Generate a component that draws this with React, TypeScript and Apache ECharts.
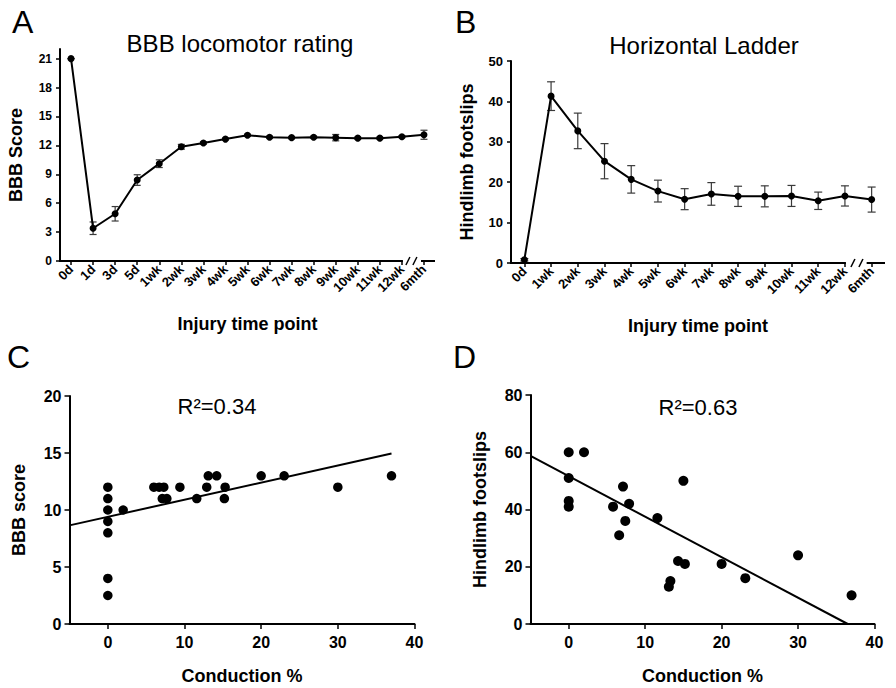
import React, { useEffect, useRef } from 'react';
import * as echarts from 'echarts';

const FONT = '"Liberation Sans", Arial, Helvetica, sans-serif';

// Panel A: BBB locomotor rating (mean ± SEM)
const aCats = ['0d', '1d', '3d', '5d', '1wk', '2wk', '3wk', '4wk', '5wk', '6wk', '7wk', '8wk', '9wk', '10wk', '11wk', '12wk', '6mth'];
const aMean = [21, 3.4, 4.9, 8.4, 10.1, 11.85, 12.25, 12.65, 13.05, 12.85, 12.8, 12.85, 12.8, 12.75, 12.75, 12.9, 13.1];
const aSem = [0, 0.65, 0.75, 0.55, 0.4, 0.25, 0.12, 0.1, 0.1, 0.1, 0.1, 0.1, 0.33, 0.1, 0.1, 0.1, 0.47];
const aTicks = [0, 3, 6, 9, 12, 15, 18, 21];

// Panel B: Horizontal ladder (mean ± SEM)
const bCats = ['0d', '1wk', '2wk', '3wk', '4wk', '5wk', '6wk', '7wk', '8wk', '9wk', '10wk', '11wk', '12wk', '6mth'];
const bMean = [0.8, 41.3, 32.7, 25.2, 20.7, 17.8, 15.8, 17.1, 16.5, 16.5, 16.6, 15.4, 16.6, 15.7];
const bSem = [0.3, 3.55, 4.4, 4.35, 3.4, 2.7, 2.6, 2.8, 2.5, 2.6, 2.6, 2.15, 2.5, 3.1];

// Panel C: BBB score vs conduction %
const cX = [0, 0, 0, 0, 0, 0, 0, 2, 6, 6.7, 7.3, 7.1, 7.7, 9.4, 11.6, 12.9, 13.1, 14.2, 15.3, 15.2, 20, 23, 30, 37];
const cY = [12, 11, 10, 9, 8, 4, 2.5, 10, 12, 12, 12, 11, 11, 12, 11, 12, 13, 13, 12, 11, 13, 13, 12, 13];
const cFitX = [-5, 37];
const cFitY = [8.65, 14.95];

// Panel D: Hindlimb footslips vs conduction %
const dX = [0, 2, 0, 0, 0, 5.8, 7.1, 7.9, 7.4, 6.6, 11.6, 14.3, 13.3, 13.1, 15.0, 15.2, 20, 23.1, 30, 37];
const dY = [60, 60, 51, 43, 41, 41, 48, 42, 36, 31, 37, 22, 15, 13, 50, 21, 21, 16, 24, 10];
const dFitX = [-5, 36.5];
const dFitY = [58.7, 0];

const convTicks = [0, 10, 20, 30, 40];

const errRender = (half: number) => (params: any, api: any) => {
  const i = api.value(0);
  const lo = api.coord([i, api.value(1)]);
  const hi = api.coord([i, api.value(2)]);
  const st = { stroke: '#3a3a3a', lineWidth: 1.2 };
  return {
    type: 'group',
    children: [
      { type: 'line', shape: { x1: lo[0], y1: lo[1], x2: hi[0], y2: hi[1] }, style: st },
      { type: 'line', shape: { x1: lo[0] - half, y1: lo[1], x2: lo[0] + half, y2: lo[1] }, style: st },
      { type: 'line', shape: { x1: hi[0] - half, y1: hi[1], x2: hi[0] + half, y2: hi[1] }, style: st },
    ],
  };
};

const axisLineStyle = { show: true, onZero: false, lineStyle: { color: '#000', width: 2 } };
const tickStyle = (len: number) => ({ show: true, length: len, lineStyle: { color: '#000', width: 1.5 } });
const nameStyle = { fontFamily: FONT, fontSize: 18, fontWeight: 'bold' as const, color: '#000' };

export default function App() {
  const ref = useRef<HTMLDivElement>(null);
  useEffect(() => {
    const chart = echarts.init(ref.current!, null, { renderer: 'svg' });
    const grids = [
      { left: 60, top: 49, width: 375, height: 212 },
      { left: 511, top: 61, width: 374, height: 202 },
      { left: 69.5, top: 396, width: 345, height: 228 },
      { left: 530.5, top: 395, width: 344, height: 229 },
    ];
    const catAxis = (gi: number, cats: string[]) => ({
      type: 'category',
      gridIndex: gi,
      data: cats,
      boundaryGap: true,
      axisLine: { show: false },
      axisTick: { ...tickStyle(4), alignWithLabel: true, interval: 0 },
      axisLabel: { interval: 0, rotate: 45, margin: 6, fontFamily: FONT, fontSize: 13, fontWeight: 'bold', color: '#000' },
      splitLine: { show: false },
      name: 'Injury time point',
      nameLocation: 'middle',
      nameGap: 54,
      nameTextStyle: nameStyle,
    });
    const option: any = {
      animation: false,
      backgroundColor: '#fff',
      grid: grids,
      xAxis: [
        catAxis(0, aCats),
        catAxis(1, bCats),
        {
          type: 'value', gridIndex: 2, min: -5, max: 40,
          axisLine: axisLineStyle,
          axisTick: { ...tickStyle(5), customValues: convTicks },
          axisLabel: { customValues: convTicks, margin: 10, fontFamily: FONT, fontSize: 16, fontWeight: 'bold', color: '#000' },
          splitLine: { show: false },
          name: 'Conduction %', nameLocation: 'middle', nameGap: 43, nameTextStyle: nameStyle,
        },
        {
          type: 'value', gridIndex: 3, min: -5, max: 40,
          axisLine: axisLineStyle,
          axisTick: { ...tickStyle(5), customValues: convTicks },
          axisLabel: { customValues: convTicks, margin: 10, fontFamily: FONT, fontSize: 16, fontWeight: 'bold', color: '#000' },
          splitLine: { show: false },
          name: 'Conduction %', nameLocation: 'middle', nameGap: 43, nameTextStyle: nameStyle,
        },
      ],
      yAxis: [
        {
          type: 'value', gridIndex: 0, min: 0, max: 22,
          axisLine: axisLineStyle,
          axisTick: { ...tickStyle(4), customValues: aTicks },
          axisLabel: { customValues: aTicks, margin: 8, fontFamily: FONT, fontSize: 12, fontWeight: 'bold', color: '#000' },
          splitLine: { show: false },
          name: 'BBB Score', nameLocation: 'middle', nameGap: 35, nameTextStyle: nameStyle,
        },
        {
          type: 'value', gridIndex: 1, min: 0, max: 50, interval: 10,
          axisLine: axisLineStyle,
          axisTick: tickStyle(4),
          axisLabel: { margin: 8, fontFamily: FONT, fontSize: 13, fontWeight: 'bold', color: '#000' },
          splitLine: { show: false },
          name: 'Hindlimb footslips', nameLocation: 'middle', nameGap: 35, nameTextStyle: nameStyle,
        },
        {
          type: 'value', gridIndex: 2, min: 0, max: 20, interval: 5,
          axisLine: axisLineStyle,
          axisTick: tickStyle(5),
          axisLabel: { margin: 8, fontFamily: FONT, fontSize: 16, fontWeight: 'bold', color: '#000' },
          splitLine: { show: false },
          name: 'BBB score', nameLocation: 'middle', nameGap: 42, nameTextStyle: nameStyle,
        },
        {
          type: 'value', gridIndex: 3, min: 0, max: 80, interval: 20,
          axisLine: axisLineStyle,
          axisTick: tickStyle(5),
          axisLabel: { margin: 8, fontFamily: FONT, fontSize: 16, fontWeight: 'bold', color: '#000' },
          splitLine: { show: false },
          name: 'Hindlimb footslips', nameLocation: 'middle', nameGap: 42, nameTextStyle: nameStyle,
        },
      ],
      series: [
        {
          type: 'custom', xAxisIndex: 0, yAxisIndex: 0,
          renderItem: errRender(3.5),
          encode: { x: 0, y: [1, 2] },
          data: aMean.map((m, i) => [i, m - aSem[i], m + aSem[i]]),
          z: 1,
        },
        {
          type: 'line', xAxisIndex: 0, yAxisIndex: 0, data: aMean,
          symbol: 'circle', symbolSize: 7,
          lineStyle: { color: '#000', width: 2 }, itemStyle: { color: '#000', opacity: 1 }, z: 3,
        },
        {
          type: 'custom', xAxisIndex: 1, yAxisIndex: 1,
          renderItem: errRender(4),
          encode: { x: 0, y: [1, 2] },
          data: bMean.map((m, i) => [i, m - bSem[i], m + bSem[i]]),
          z: 1,
        },
        {
          type: 'line', xAxisIndex: 1, yAxisIndex: 1, data: bMean,
          symbol: 'circle', symbolSize: 7,
          lineStyle: { color: '#000', width: 2 }, itemStyle: { color: '#000', opacity: 1 }, z: 3,
        },
        {
          type: 'scatter', xAxisIndex: 2, yAxisIndex: 2,
          data: cX.map((x, i) => [x, cY[i]]),
          symbolSize: 9.5, itemStyle: { color: '#000', opacity: 1 },
        },
        {
          type: 'line', xAxisIndex: 2, yAxisIndex: 2,
          data: cFitX.map((x, i) => [x, cFitY[i]]),
          symbol: 'none', lineStyle: { color: '#000', width: 2 },
        },
        {
          type: 'scatter', xAxisIndex: 3, yAxisIndex: 3,
          data: dX.map((x, i) => [x, dY[i]]),
          symbolSize: 10, itemStyle: { color: '#000', opacity: 1 },
        },
        {
          type: 'line', xAxisIndex: 3, yAxisIndex: 3,
          data: dFitX.map((x, i) => [x, dFitY[i]]),
          symbol: 'none', lineStyle: { color: '#000', width: 2 },
        },
      ],
    };
    chart.setOption(option);

    const lineSt = { stroke: '#000', lineWidth: 2 };
    const breakAxis = (ai: number, cats: string[], gl: number, gr: number, o: number[]) => {
      const p12 = chart.convertToPixel({ xAxisIndex: ai }, cats.indexOf('12wk')) as number;
      const p6 = chart.convertToPixel({ xAxisIndex: ai }, cats.indexOf('6mth')) as number;
      const y0 = chart.convertToPixel({ yAxisIndex: ai }, 0) as number;
      return [
        { type: 'line', shape: { x1: gl - 1, y1: y0, x2: p12 + 1, y2: y0 }, style: lineSt },
        { type: 'line', shape: { x1: p12 + o[0], y1: y0 + 4, x2: p12 + o[0] + 4, y2: y0 - 4 }, style: { stroke: '#000', lineWidth: 1.5 } },
        { type: 'line', shape: { x1: p12 + o[1], y1: y0 + 4, x2: p12 + o[1] + 4, y2: y0 - 4 }, style: { stroke: '#000', lineWidth: 1.5 } },
        { type: 'line', shape: { x1: p6 - o[2], y1: y0, x2: gr, y2: y0 }, style: lineSt },
      ];
    };
    const txt = (text: string, x: number, y: number, size: number, align = 'left', weight = 'normal') => ({
      type: 'text', x, y,
      style: { text, fill: '#000', font: `${weight} ${size}px ${FONT}`, align, verticalAlign: 'middle' },
    });
    chart.setOption({
      graphic: [
        ...breakAxis(0, aCats, 60, 435, [4, 11, 3]),
        ...breakAxis(1, bCats, 511, 885, [6, 14, 5]),
        txt('A', 12, 22, 32),
        txt('B', 455, 22, 32),
        txt('C', 7, 357, 32),
        txt('D', 453, 357, 32),
        txt('BBB locomotor rating', 240, 43, 24, 'center'),
        txt('Horizontal Ladder', 704, 45, 24, 'center'),
        txt('R²=0.34', 217, 406, 22, 'center'),
        txt('R²=0.63', 698, 407, 22, 'center'),
      ],
    });
    return () => chart.dispose();
  }, []);
  return <div ref={ref} style={{ position: 'fixed', left: 0, top: 0, width: 896, height: 688 }} />;
}
